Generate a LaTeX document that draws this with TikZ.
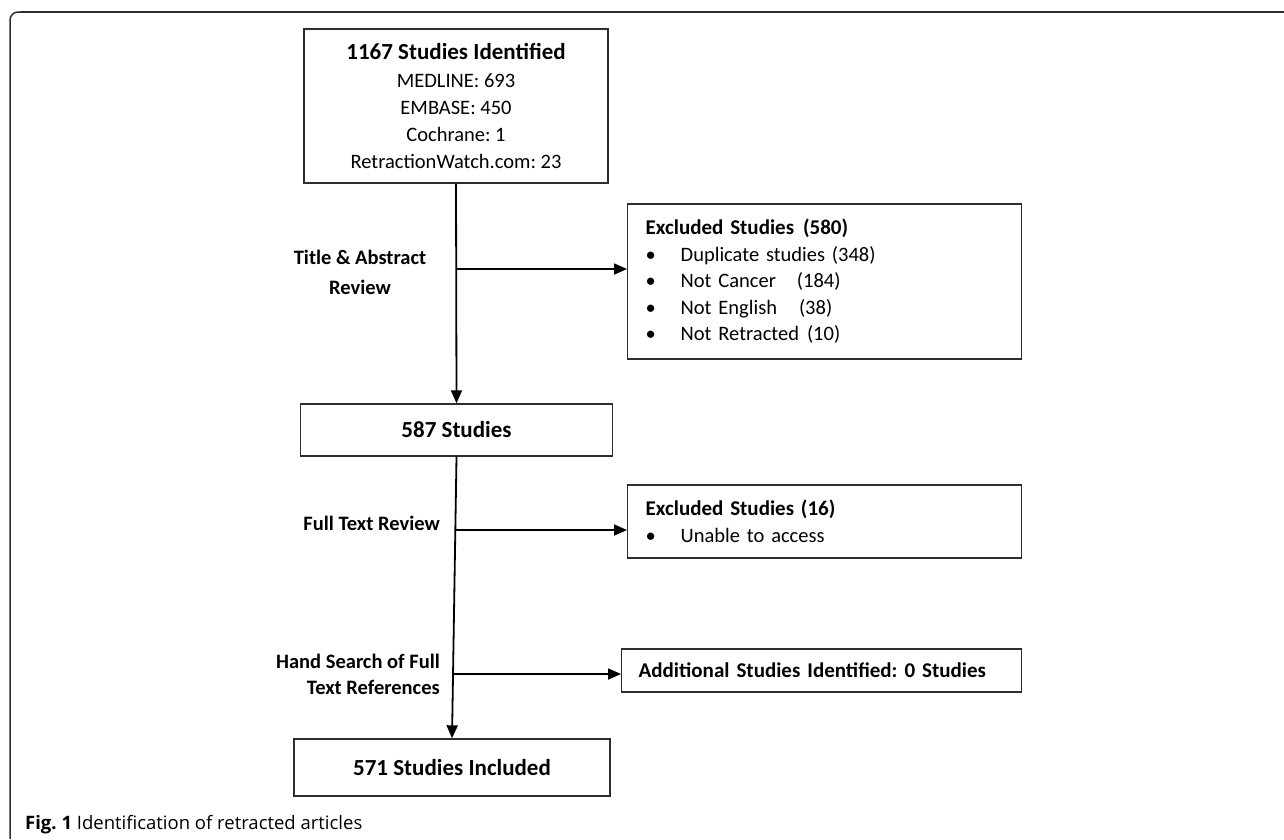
\documentclass[tikz,border=0pt]{standalone}
\usepackage{fontspec}
\setmainfont{Carlito}
\newfontfamily\capfont{Open Sans}
\usetikzlibrary{arrows.meta,positioning}
\definecolor{boxgray}{HTML}{2E2E2E}
\newcommand{\bul}{\makebox[35pt][l]{\textbullet}}
\frenchspacing
\tikzset{
  stage/.style={draw=boxgray, line width=1.4pt, inner sep=0pt, align=center,
    font=\bfseries\fontsize{23}{27}\selectfont},
  exclbox/.style={draw=boxgray, line width=1.4pt, inner xsep=18pt, inner ysep=0pt,
    align=left, anchor=west, font=\fontsize{20.5}{26.5}\selectfont},
  steplbl/.style={inner sep=0pt, font=\bfseries\fontsize{20.5}{26}\selectfont},
  flow/.style={line width=1.8pt, -{Triangle[length=13pt,width=11pt]}},
}
\begin{document}
\begin{tikzpicture}[x=1pt, y=-1pt]
\useasboundingbox (0,0) rectangle (1284,839);
% Frame
\draw[line width=1.5pt, boxgray, rounded corners=8pt] (1284,12) -- (10,12) -- (10,839);
\draw[line width=2.6pt, boxgray] (20,12) -- (1284,12);

% Main boxes
\node[stage, minimum width=304pt, minimum height=154pt] (ident) at (456,106)
  {1167 Studies Identified\\[1pt]
   \mdseries\fontsize{20.5}{26}\selectfont MEDLINE: 693\\
   \mdseries\fontsize{20.5}{26}\selectfont EMBASE: 450\\
   \mdseries\fontsize{20.5}{26}\selectfont Cochrane: 1\\
   \mdseries\fontsize{20.5}{26}\selectfont RetractionWatch.com: 23};
\node[stage, minimum width=312pt, minimum height=52pt] (mid) at (456.5,430) {587 Studies};
\node[stage, minimum width=316pt, minimum height=57pt] (incl) at (452,767.5) {571 Studies Included};

% Side boxes
\node[exclbox, text width=358pt, minimum height=155pt] (excl1) at (627,281.5)
  {{\bfseries\fontsize{21}{26}\selectfont Excluded Studies\hspace{9pt}(580)}\\
   \bul Duplicate studies (348)\\
   \bul Not Cancer\hspace{21pt}(184)\\
   \bul Not English\hspace{22pt}(38)\\
   \bul Not Retracted\hspace{8pt}(10)};
\node[exclbox, text width=358pt, minimum height=73pt] (excl2) at (627,521.5)
  {{\bfseries\fontsize{21}{26}\selectfont Excluded Studies (16)}\\
   \bul Unable to access};
\node[exclbox, inner xsep=17pt, text width=366pt, minimum height=43pt,
  font=\bfseries\fontsize{21}{26}\selectfont] (addl) at (621,670.5)
  {Additional Studies Identified: 0 Studies};

% Review labels
\node[steplbl, align=center] (tar) at (360,272) {Title \& Abstract\\[4pt]Review};
\node[steplbl, anchor=east] (ftr) at (440,523) {Full Text Review};
\node[steplbl, align=right, anchor=east] (hsr) at (440,674) {Hand Search of Full\\Text References};

% Arrows
\coordinate (ta) at (456,269);
\coordinate (ft) at (456,530);
\coordinate (hs) at (454,674);
\draw[flow] (ident.south) -- (mid.north);
\draw[flow] (mid.south) -- (incl.north);
\draw[flow] (ta) -- (ta -| excl1.west);
\draw[flow] (ft) -- (ft -| excl2.west);
\draw[flow] (hs) -- (hs -| addl.west);

% Caption
\node[anchor=base west, inner sep=0pt, font=\capfont\fontsize{18.5}{22}\selectfont] (cap) at (25,829)
  {\textbf{Fig. 1} Identification of retracted articles};
\end{tikzpicture}
\end{document}
